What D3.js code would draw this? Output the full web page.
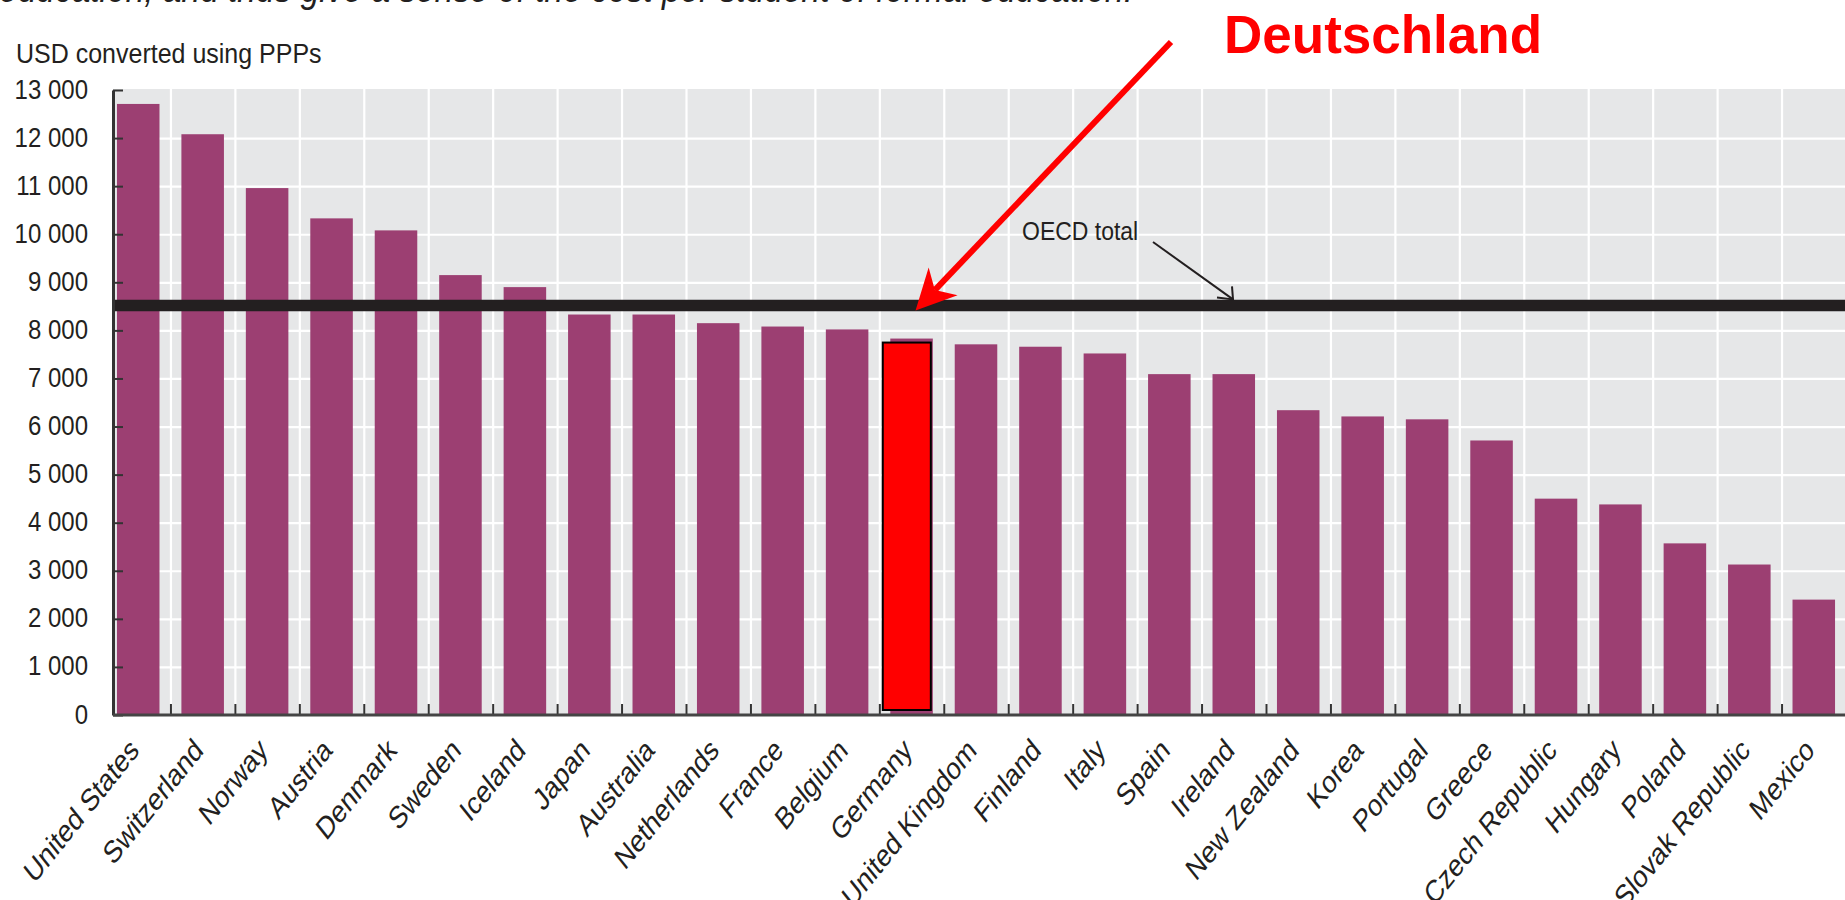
<!DOCTYPE html>
<html>
<head>
<meta charset="utf-8">
<script src="https://cdn.jsdelivr.net/npm/d3@7"></script>
<style>
  html, body { margin: 0; padding: 0; background: #fff; }
  svg { display: block; font-family: "Liberation Sans", Arial, sans-serif; }
</style>
</head>
<body>
<svg id="chart" width="1845" height="900"></svg>
<script>
// chart data
const countries = ["United States", "Switzerland", "Norway", "Austria", "Denmark", "Sweden", "Iceland",
  "Japan", "Australia", "Netherlands", "France", "Belgium", "Germany", "United Kingdom", "Finland",
  "Italy", "Spain", "Ireland", "New Zealand", "Korea", "Portugal", "Greece", "Czech Republic",
  "Hungary", "Poland", "Slovak Republic", "Mexico"];
const values = [12710, 12080, 10960, 10330, 10080, 9150, 8900,
  8330, 8330, 8150, 8080, 8020, 7830, 7710, 7660,
  7520, 7090, 7090, 6340, 6210, 6150, 5710, 4500,
  4380, 3570, 3130, 2400];
const yTicks = [0, 1000, 2000, 3000, 4000, 5000, 6000, 7000, 8000, 9000, 10000, 11000, 12000, 13000];
const oecdTotal = 8520;
const highlight = "Germany";

const titleText = "education, and thus give a sense of the cost per student of formal education.";
const yTitle = "USD converted using PPPs";
const oecdLabel = "OECD total";
const highlightLabel = "Deutschland";

const svg = d3.select("#chart");
const plot = { left: 113, top: 89, right: 1845, bottom: 715 };
const ink = "#231f20";

// scales
const xScale = d3.scaleBand()
  .domain(countries)
  .range([106, 1846])
  .paddingInner(0.34)
  .paddingOuter(0.17);
const xEdge = d3.scaleLinear().domain([0, countries.length]).range([106, 1846]);
const yScale = d3.scaleLinear().domain([0, 13000]).range([plot.bottom, 90]);

// plot background
svg.append("rect")
  .attr("x", plot.left).attr("y", plot.top)
  .attr("width", plot.right - plot.left).attr("height", plot.bottom - plot.top)
  .attr("fill", "#e6e7e8");

// grid lines
svg.append("g")
  .attr("transform", "translate(" + plot.left + ",0)")
  .call(d3.axisLeft(yScale).tickValues(yTicks.slice(1, -1))
    .tickSize(-(plot.right - plot.left)).tickFormat(""))
  .call(g => g.select(".domain").remove())
  .call(g => g.selectAll("line").attr("stroke", "#fff").attr("stroke-width", 2.2));

svg.append("g")
  .attr("transform", "translate(0," + plot.bottom + ")")
  .call(d3.axisBottom(xEdge).tickValues(d3.range(1, countries.length))
    .tickSize(-(plot.bottom - plot.top)).tickFormat(""))
  .call(g => g.select(".domain").remove())
  .call(g => g.selectAll("line").attr("stroke", "#fff").attr("stroke-width", 2.2));

// bars
const data = countries.map((c, i) => ({ country: c, value: values[i] }));
svg.append("g").selectAll("rect")
  .data(data)
  .join("rect")
  .attr("x", d => xScale(d.country))
  .attr("y", d => yScale(d.value))
  .attr("width", xScale.bandwidth())
  .attr("height", d => yScale(0) - yScale(d.value))
  .attr("fill", "#9c3f72");

// highlighted box for Germany
const hv = values[countries.indexOf(highlight)];
svg.append("rect")
  .attr("x", xScale(highlight) - 7.5)
  .attr("y", yScale(hv) + 4)
  .attr("width", xScale.bandwidth() + 5.5)
  .attr("height", yScale(0) - 5 - (yScale(hv) + 4))
  .attr("fill", "#ff0000")
  .attr("stroke", "#000")
  .attr("stroke-width", 2);

// OECD total line
svg.append("line")
  .attr("x1", plot.left).attr("x2", plot.right)
  .attr("y1", yScale(oecdTotal)).attr("y2", yScale(oecdTotal))
  .attr("stroke", ink).attr("stroke-width", 11.5);

// y axis
const yAxis = svg.append("g")
  .attr("transform", "translate(" + plot.left + ",0)")
  .call(d3.axisLeft(yScale).tickValues(yTicks).tickSizeInner(-10).tickSizeOuter(0)
    .tickFormat(d => d3.format(",")(d).replace(",", " ")));
yAxis.select(".domain").attr("stroke", "#333").attr("stroke-width", 3);
yAxis.selectAll(".tick line").attr("stroke", "#333").attr("stroke-width", 2);
yAxis.selectAll(".tick text")
  .attr("x", 0).attr("dy", 0)
  .attr("transform", "translate(-25,8) scale(1,1.15)")
  .attr("text-anchor", "end")
  .attr("font-size", 24)
  .attr("font-family", "Liberation Sans, Arial, sans-serif")
  .attr("fill", ink);

// x axis: baseline, boundary ticks and labels
svg.append("g")
  .attr("transform", "translate(0," + plot.bottom + ")")
  .call(d3.axisBottom(xEdge).tickValues(d3.range(1, countries.length)).tickSize(-11).tickFormat(""))
  .call(g => g.select(".domain").remove())
  .call(g => g.selectAll("line").attr("stroke", "#333").attr("stroke-width", 2));

svg.append("line")
  .attr("x1", plot.left).attr("x2", plot.right)
  .attr("y1", plot.bottom).attr("y2", plot.bottom)
  .attr("stroke", "#444").attr("stroke-width", 3);

svg.append("g")
  .attr("transform", "translate(0," + plot.bottom + ")")
  .call(d3.axisBottom(xScale).tickSize(0))
  .call(g => g.select(".domain").remove())
  .call(g => g.selectAll("text")
    .attr("x", 0).attr("y", 0).attr("dy", 0)
    .attr("text-anchor", "end")
    .attr("transform", "translate(2,37) scale(1,1.25) rotate(-45)")
    .attr("font-size", 25)
    .attr("font-family", "Liberation Sans, Arial, sans-serif")
    .attr("fill", ink));

// texts
svg.append("text")
  .attr("transform", "translate(-1,1.5) scale(1,1.15)")
  .attr("font-size", 33.5).attr("font-style", "italic")
  .attr("fill", ink)
  .text(titleText);

svg.append("text")
  .attr("transform", "translate(16,63) scale(1,1.12)")
  .attr("font-size", 25).attr("fill", ink)
  .text(yTitle);

svg.append("text")
  .attr("transform", "translate(1022,240) scale(1,1.15)")
  .attr("font-size", 23).attr("fill", ink)
  .text(oecdLabel);

// OECD total pointer
const oTip = [1233, yScale(oecdTotal) - 6];
svg.append("line")
  .attr("x1", 1153).attr("y1", 242).attr("x2", oTip[0]).attr("y2", oTip[1])
  .attr("stroke", ink).attr("stroke-width", 2);
svg.append("path")
  .attr("d", "M" + (oTip[0] - 16) + "," + (oTip[1] - 2) + "L" + oTip[0] + "," + oTip[1] + "L" + (oTip[0] - 1) + "," + (oTip[1] - 13))
  .attr("fill", "none").attr("stroke", ink).attr("stroke-width", 2);

// Deutschland label and red arrow
svg.append("text")
  .attr("x", 1224).attr("y", 53)
  .attr("font-size", 53).attr("font-weight", "bold")
  .attr("fill", "#ff0000")
  .text(highlightLabel);

const start = [1171, 42];
const tip = [xScale(highlight) + xScale.bandwidth() / 2 + 4, yScale(oecdTotal) + 5];
const dx = tip[0] - start[0], dy = tip[1] - start[1];
const len = Math.hypot(dx, dy);
const ux = dx / len, uy = dy / len;   // direction of arrow
const px = -uy, py = ux;              // perpendicular
const pt = (back, side) => [tip[0] - ux * back + px * side, tip[1] - uy * back + py * side];
const notch = pt(28, 0);
svg.append("line")
  .attr("x1", start[0]).attr("y1", start[1])
  .attr("x2", notch[0]).attr("y2", notch[1])
  .attr("stroke", "#ff0000").attr("stroke-width", 6);
svg.append("path")
  .attr("d", "M" + [tip, pt(40, 20), notch, pt(40, -20)].map(p => p.join(",")).join("L") + "Z")
  .attr("fill", "#ff0000");
</script>
</body>
</html>
